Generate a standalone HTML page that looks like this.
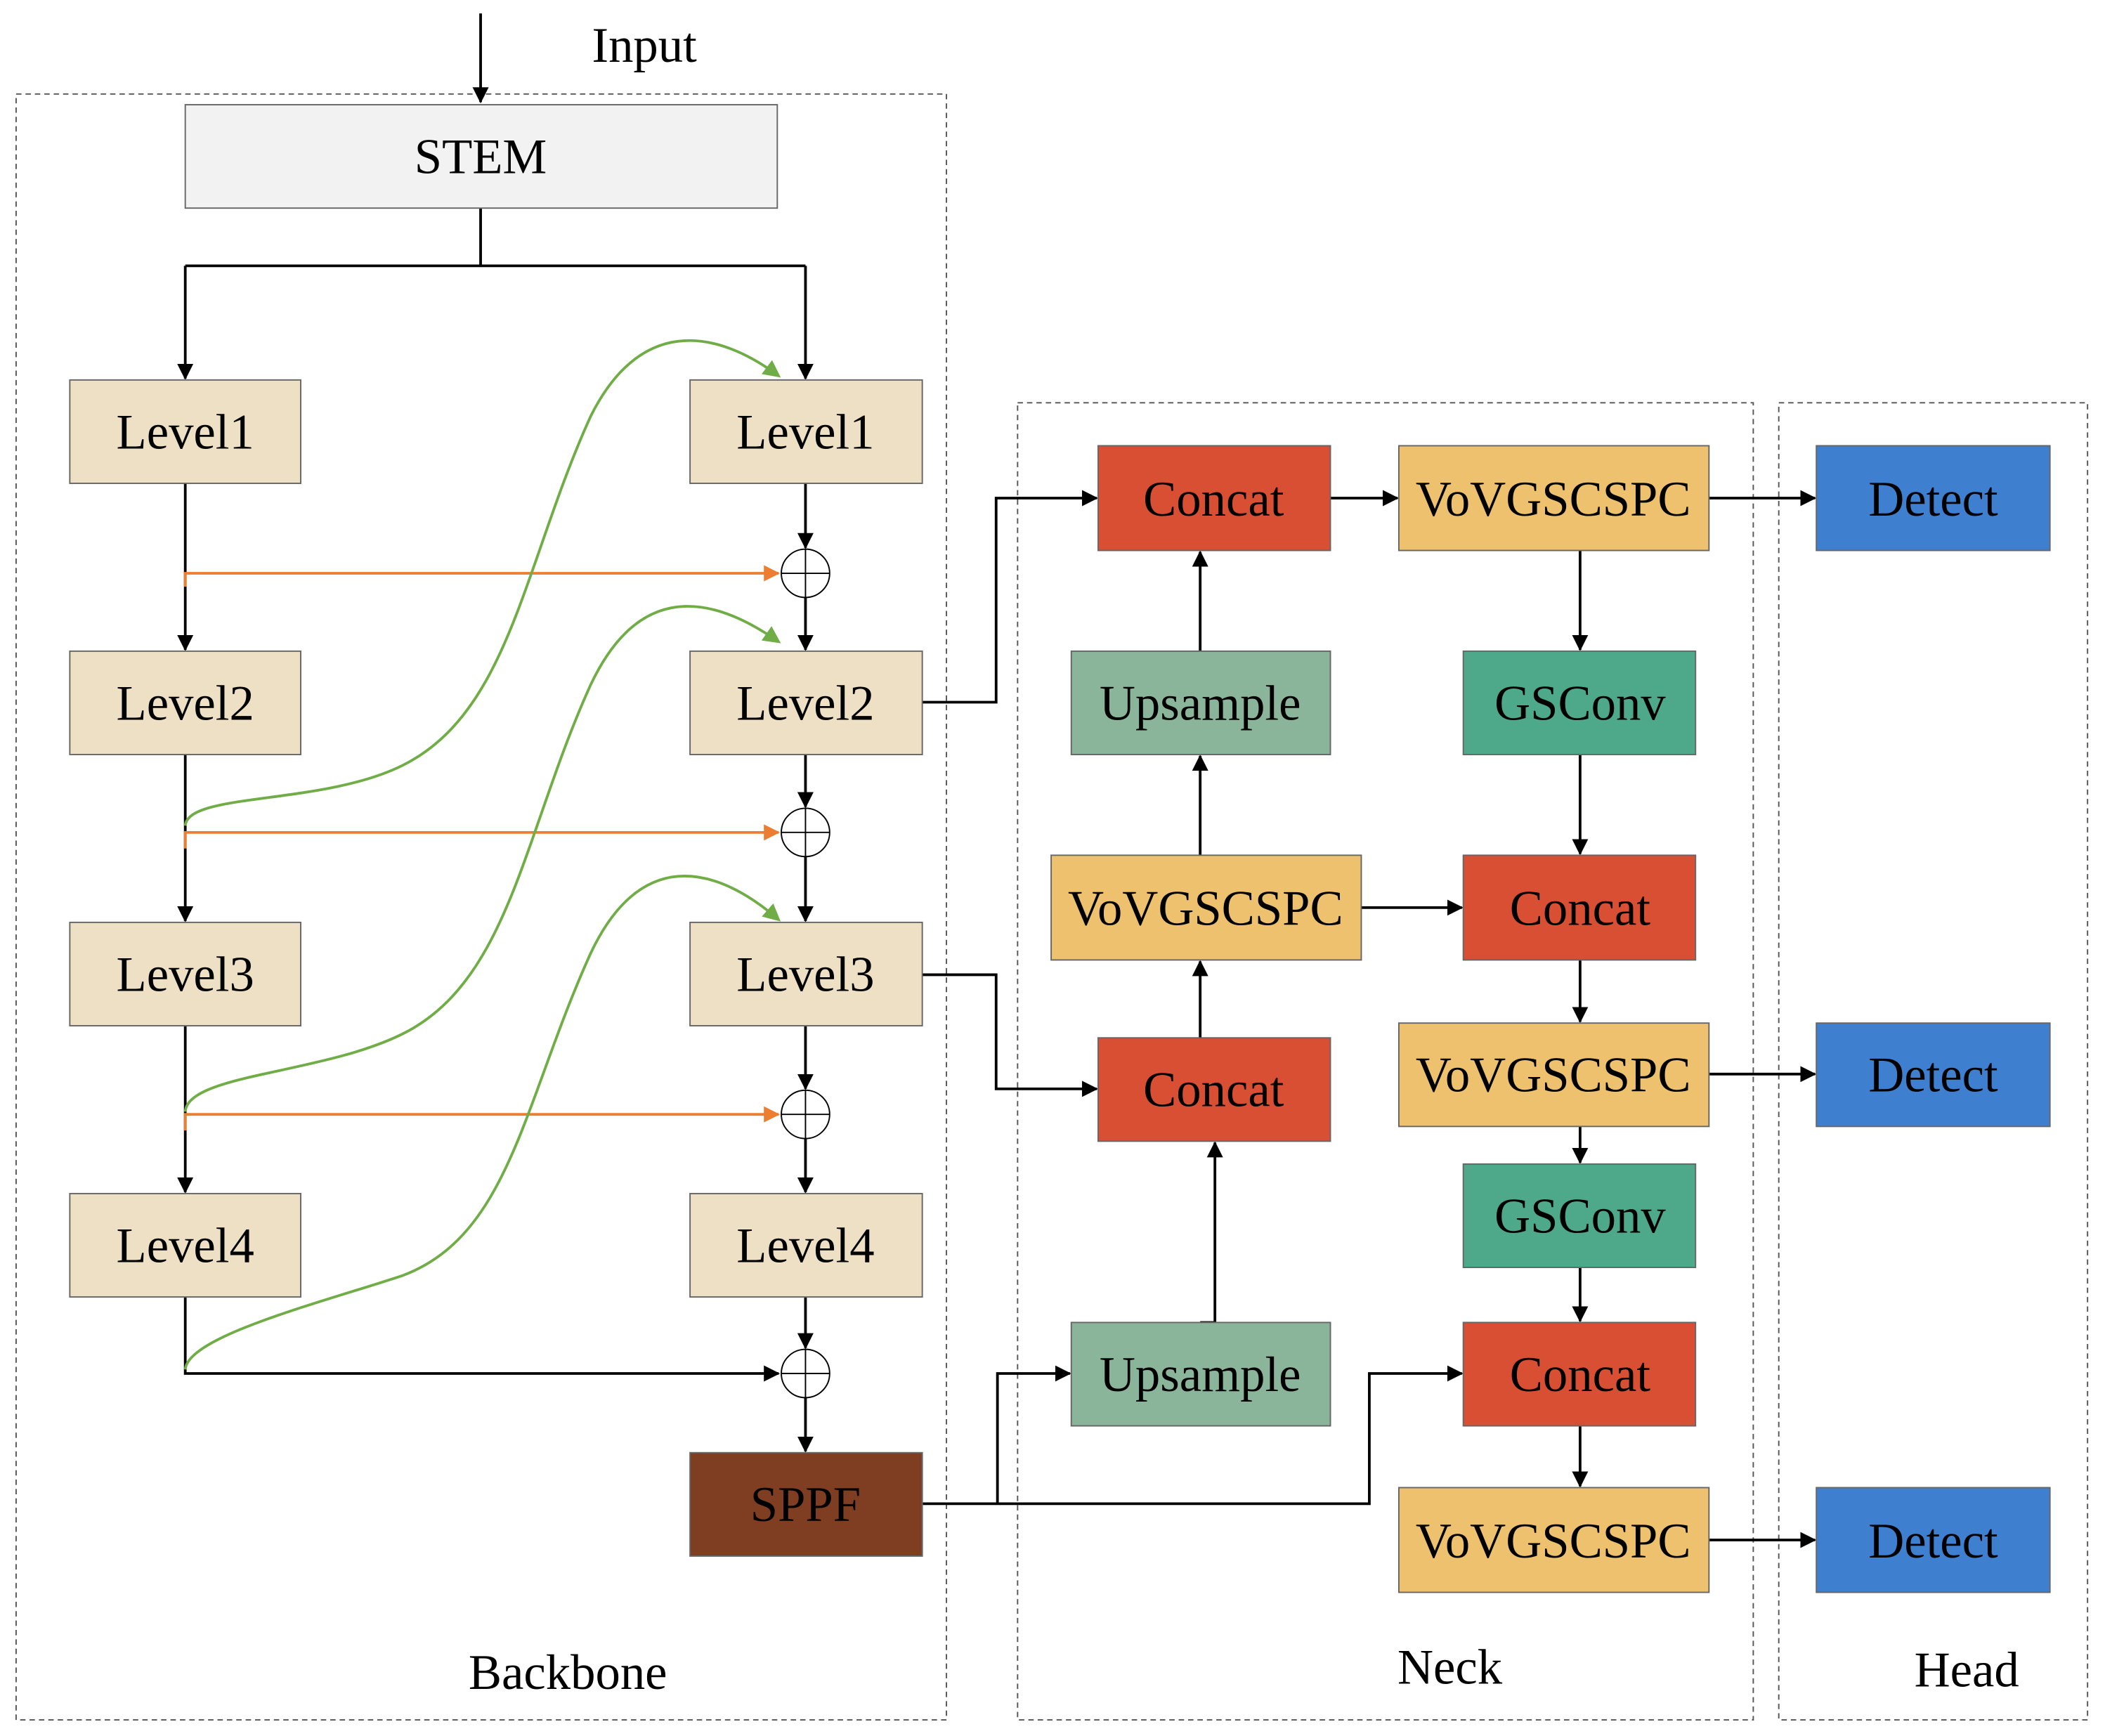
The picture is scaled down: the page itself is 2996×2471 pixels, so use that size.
<!DOCTYPE html>
<html><head><meta charset="utf-8"><style>html,body{margin:0;padding:0;background:#fff}svg{display:block}</style></head>
<body>
<svg width="2996" height="2471" viewBox="0 0 1568 1293" preserveAspectRatio="none" xmlns="http://www.w3.org/2000/svg" font-family="'Liberation Serif', serif" font-size="37">
<defs>
<marker id="ak" markerWidth="12" markerHeight="12" refX="11" refY="6" orient="auto" markerUnits="userSpaceOnUse"><path d="M0,0 L12,6 L0,12 z" fill="#000"/></marker>
<marker id="ao" markerWidth="12" markerHeight="12" refX="11" refY="6" orient="auto" markerUnits="userSpaceOnUse"><path d="M0,0 L12,6 L0,12 z" fill="#ed7d31"/></marker>
<marker id="ag" markerWidth="13" markerHeight="13" refX="11" refY="6.5" orient="auto" markerUnits="userSpaceOnUse"><path d="M0,0 L13,6.5 L0,13 z" fill="#70ad47"/></marker>
</defs>
<g fill="none" stroke="#555" stroke-dasharray="4,3" stroke-width="1">
<rect x="12" y="70" width="693" height="1211"/>
<rect x="758" y="300" width="548" height="981"/>
<rect x="1325" y="300" width="230" height="981"/>
</g>
<text x="480" y="46" text-anchor="middle">Input</text>
<text x="423" y="1258" text-anchor="middle">Backbone</text>
<text x="1080" y="1254" text-anchor="middle">Neck</text>
<text x="1465" y="1256" text-anchor="middle">Head</text>
<g stroke="#000" stroke-width="2" fill="none">
<line x1="358" y1="10" x2="358" y2="76" marker-end="url(#ak)"/>
<path d="M358,155 V198 M138,198 H600"/>
<line x1="138" y1="198" x2="138" y2="282" marker-end="url(#ak)"/>
<line x1="600" y1="198" x2="600" y2="282" marker-end="url(#ak)"/>
<line x1="138" y1="360" x2="138" y2="484" marker-end="url(#ak)"/>
<line x1="138" y1="562" x2="138" y2="686" marker-end="url(#ak)"/>
<line x1="138" y1="764" x2="138" y2="888" marker-end="url(#ak)"/>
<path d="M138,966 V1023 H580" marker-end="url(#ak)"/>
<line x1="600" y1="360" x2="600" y2="408" marker-end="url(#ak)"/>
<line x1="600" y1="445" x2="600" y2="484" marker-end="url(#ak)"/>
<line x1="600" y1="562" x2="600" y2="601" marker-end="url(#ak)"/>
<line x1="600" y1="638" x2="600" y2="686" marker-end="url(#ak)"/>
<line x1="600" y1="764" x2="600" y2="811" marker-end="url(#ak)"/>
<line x1="600" y1="848" x2="600" y2="888" marker-end="url(#ak)"/>
<line x1="600" y1="966" x2="600" y2="1004" marker-end="url(#ak)"/>
<line x1="600" y1="1041" x2="600" y2="1081" marker-end="url(#ak)"/>
<path d="M687,523 H742 V371 H817" marker-end="url(#ak)"/>
<path d="M687,726 H742 V811 H817" marker-end="url(#ak)"/>
<path d="M687,1120 H1020 V1023 H1089" marker-end="url(#ak)"/>
<path d="M743,1120 V1023 H797" marker-end="url(#ak)"/>
<path d="M894,985 H905 V851" marker-end="url(#ak)"/>
<line x1="991" y1="371" x2="1041" y2="371" marker-end="url(#ak)"/>
<line x1="1273" y1="371" x2="1352" y2="371" marker-end="url(#ak)"/>
<line x1="1177" y1="410" x2="1177" y2="484" marker-end="url(#ak)"/>
<line x1="1177" y1="562" x2="1177" y2="636" marker-end="url(#ak)"/>
<line x1="894" y1="485" x2="894" y2="411" marker-end="url(#ak)"/>
<line x1="894" y1="637" x2="894" y2="563" marker-end="url(#ak)"/>
<line x1="894" y1="773" x2="894" y2="716" marker-end="url(#ak)"/>
<line x1="1014" y1="676" x2="1089" y2="676" marker-end="url(#ak)"/>
<line x1="1177" y1="715" x2="1177" y2="761" marker-end="url(#ak)"/>
<line x1="1273" y1="800" x2="1352" y2="800" marker-end="url(#ak)"/>
<line x1="1177" y1="839" x2="1177" y2="866" marker-end="url(#ak)"/>
<line x1="1177" y1="944" x2="1177" y2="984" marker-end="url(#ak)"/>
<line x1="1177" y1="1062" x2="1177" y2="1107" marker-end="url(#ak)"/>
<line x1="1273" y1="1147" x2="1352" y2="1147" marker-end="url(#ak)"/>
</g>
<g stroke="#ed7d31" stroke-width="2" fill="none">
<path d="M138,437 V427 H580" marker-end="url(#ao)"/>
<path d="M138,632 V620 H580" marker-end="url(#ao)"/>
<path d="M138,842 V830 H580" marker-end="url(#ao)"/>
</g>
<g stroke="#70ad47" stroke-width="2" fill="none">
<path d="M138,615 C140,590 240,600 300,570 C380,530 390,420 440,310 C480,230 540,250 580,280" marker-end="url(#ag)"/>
<path d="M138,828 C140,800 240,800 300,770 C380,730 390,620 440,510 C480,425 540,450 580,478" marker-end="url(#ag)"/>
<path d="M138,1020 C140,995 240,970 300,950 C380,920 390,820 440,710 C480,625 540,650 580,685" marker-end="url(#ag)"/>
</g>
<g stroke="#000" stroke-width="1" fill="#fff">
<circle cx="600" cy="427" r="18"/><circle cx="600" cy="620" r="18"/><circle cx="600" cy="830" r="18"/><circle cx="600" cy="1023" r="18"/>
<path d="M582,427 H618 M600,409 V445 M582,620 H618 M600,602 V638 M582,830 H618 M600,812 V848 M582,1023 H618 M600,1005 V1041" fill="none"/>
</g>
<g stroke="#666" stroke-width="1">
<rect x="138" y="78" width="441" height="77" fill="#f2f2f2"/>
<rect x="52" y="283" width="172" height="77" fill="#ede0c4"/>
<rect x="52" y="485" width="172" height="77" fill="#ede0c4"/>
<rect x="52" y="687" width="172" height="77" fill="#ede0c4"/>
<rect x="52" y="889" width="172" height="77" fill="#ede0c4"/>
<rect x="514" y="283" width="173" height="77" fill="#ede0c4"/>
<rect x="514" y="485" width="173" height="77" fill="#ede0c4"/>
<rect x="514" y="687" width="173" height="77" fill="#ede0c4"/>
<rect x="514" y="889" width="173" height="77" fill="#ede0c4"/>
<rect x="514" y="1082" width="173" height="77" fill="#7f3d22"/>
<rect x="818" y="332" width="173" height="78" fill="#d94f33"/>
<rect x="1042" y="332" width="231" height="78" fill="#eec16e"/>
<rect x="1353" y="332" width="174" height="78" fill="#3f7fcf"/>
<rect x="798" y="485" width="193" height="77" fill="#8bb59b"/>
<rect x="1090" y="485" width="173" height="77" fill="#4ea98b"/>
<rect x="783" y="637" width="231" height="78" fill="#eec16e"/>
<rect x="1090" y="637" width="173" height="78" fill="#d94f33"/>
<rect x="818" y="773" width="173" height="77" fill="#d94f33"/>
<rect x="1042" y="762" width="231" height="77" fill="#eec16e"/>
<rect x="1353" y="762" width="174" height="77" fill="#3f7fcf"/>
<rect x="1090" y="867" width="173" height="77" fill="#4ea98b"/>
<rect x="798" y="985" width="193" height="77" fill="#8bb59b"/>
<rect x="1090" y="985" width="173" height="77" fill="#d94f33"/>
<rect x="1042" y="1108" width="231" height="78" fill="#eec16e"/>
<rect x="1353" y="1108" width="174" height="78" fill="#3f7fcf"/>
</g>
<g text-anchor="middle" fill="#000">
<text x="358" y="129">STEM</text>
<text x="138" y="334">Level1</text><text x="138" y="536">Level2</text><text x="138" y="738">Level3</text><text x="138" y="940">Level4</text>
<text x="600" y="334">Level1</text><text x="600" y="536">Level2</text><text x="600" y="738">Level3</text><text x="600" y="940">Level4</text>
<text x="600" y="1133">SPPF</text>
<text x="904" y="384">Concat</text><text x="1157" y="384">VoVGSCSPC</text><text x="1440" y="384">Detect</text>
<text x="894" y="536">Upsample</text><text x="1177" y="536">GSConv</text>
<text x="898" y="689">VoVGSCSPC</text><text x="1177" y="689">Concat</text>
<text x="904" y="824">Concat</text><text x="1157" y="813">VoVGSCSPC</text><text x="1440" y="813">Detect</text>
<text x="1177" y="918">GSConv</text>
<text x="894" y="1036">Upsample</text><text x="1177" y="1036">Concat</text>
<text x="1157" y="1160">VoVGSCSPC</text><text x="1440" y="1160">Detect</text>
</g>
</svg>
</body></html>
